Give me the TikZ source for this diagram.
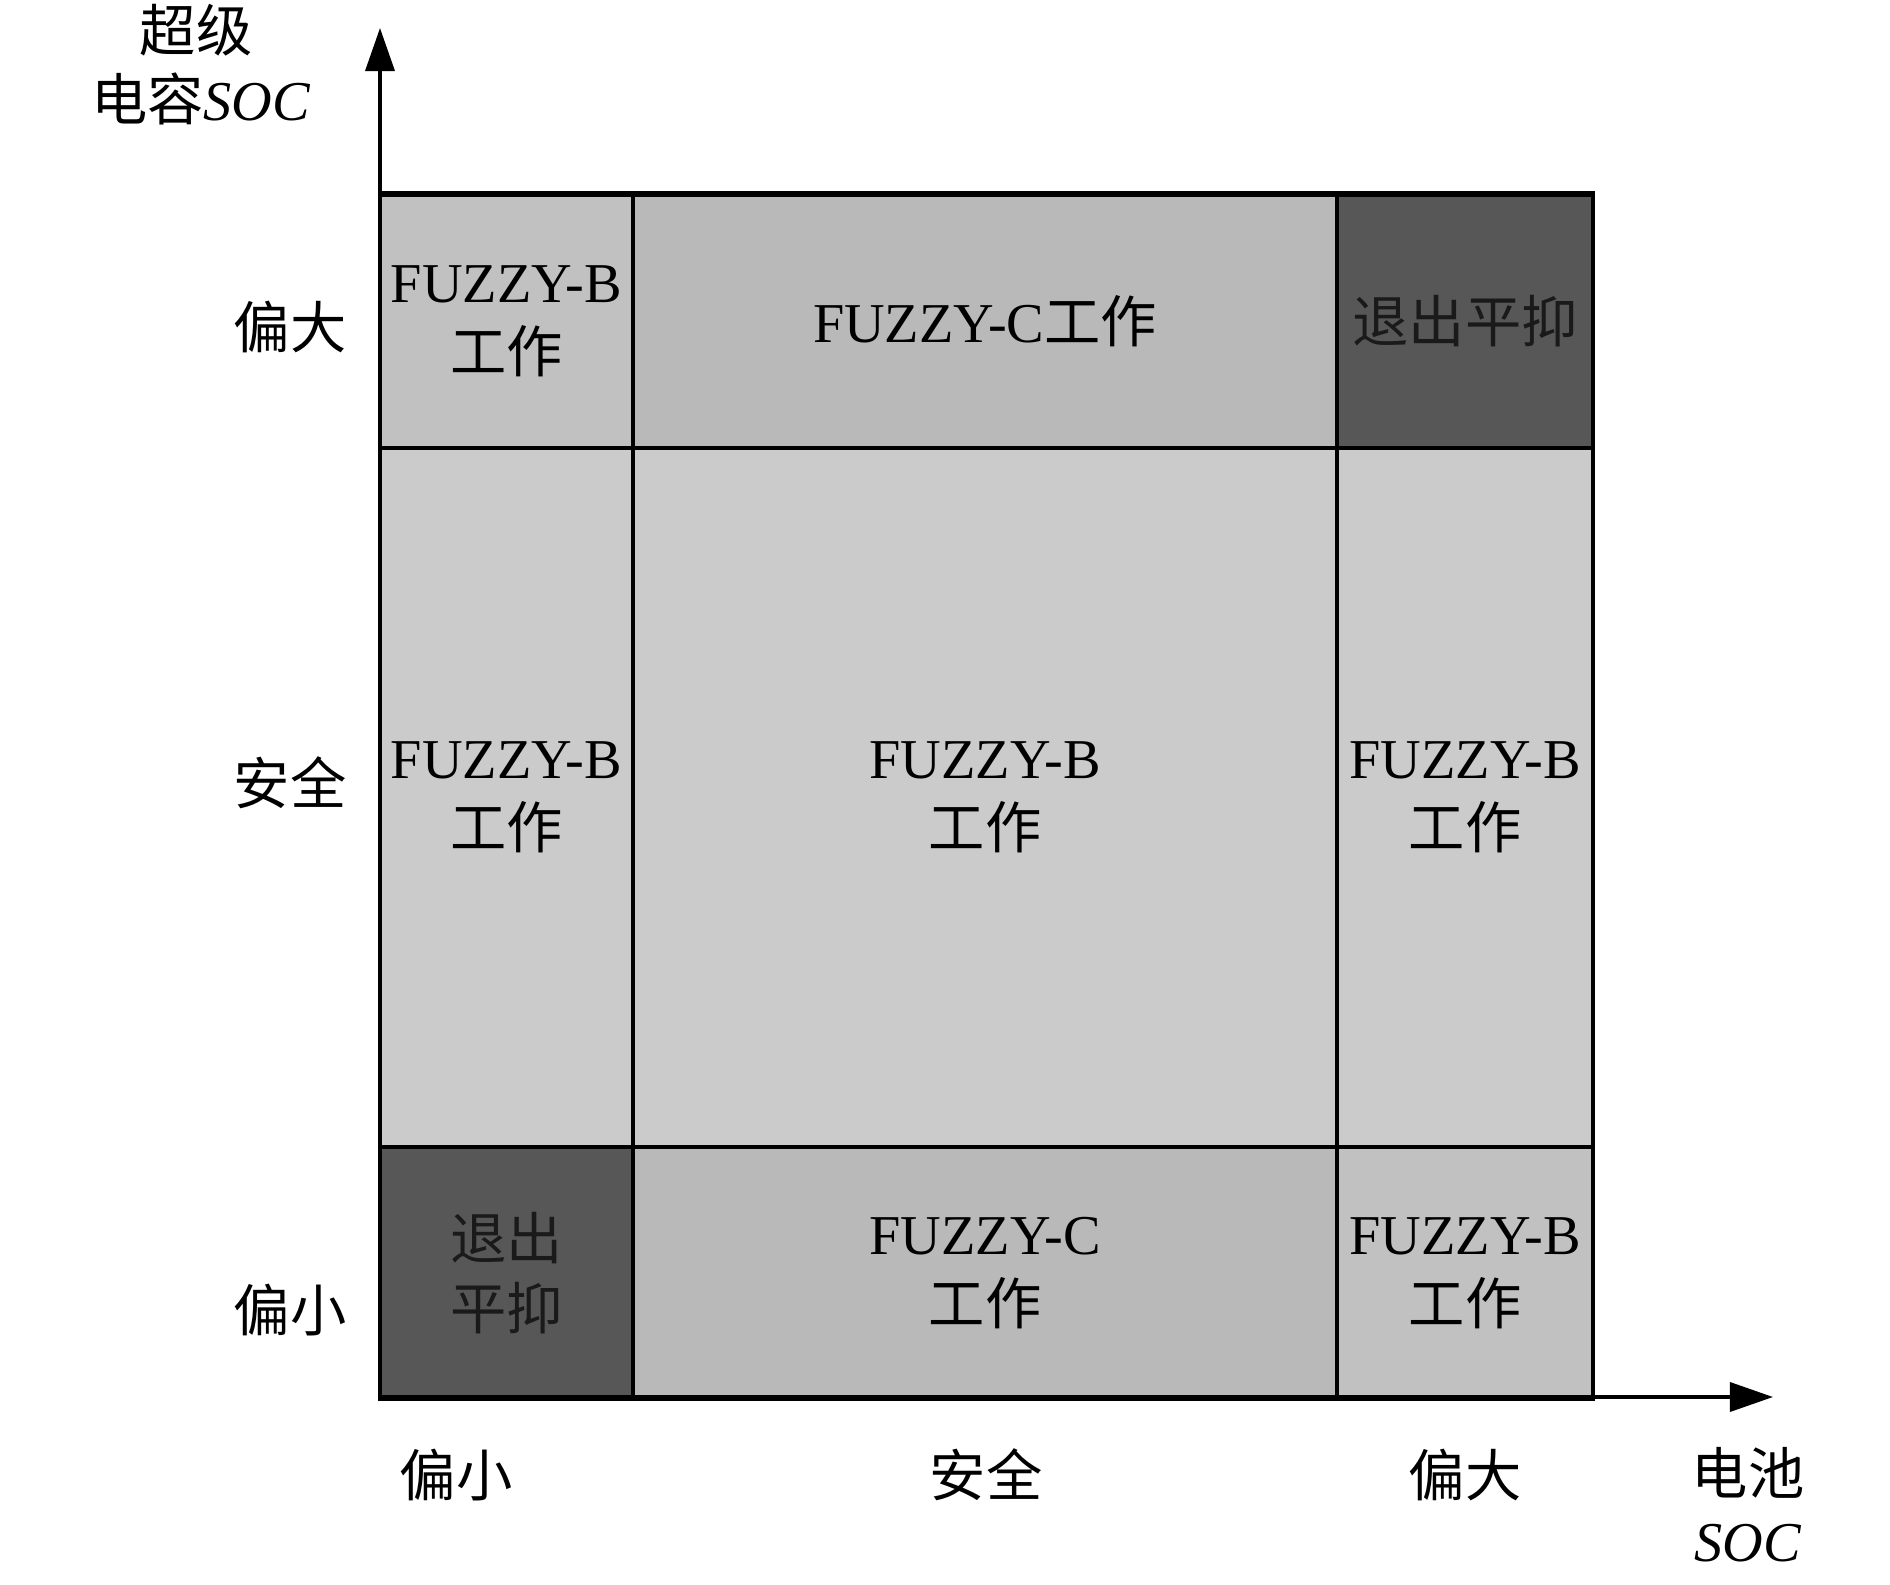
\documentclass[tikz,border=0pt]{standalone}
\usepackage{fontspec}
\setmainfont{Liberation Serif}
\newfontfamily\cjk{Noto Sans CJK SC}
\usetikzlibrary{arrows.meta}
\definecolor{cB}{HTML}{C1C1C1}
\definecolor{cM}{HTML}{CBCBCB}
\definecolor{cC}{HTML}{B9B9B9}
\definecolor{cD}{HTML}{575757}
\definecolor{tD}{HTML}{1A1A1A}
\begin{document}
\begin{tikzpicture}[x=0.01cm,y=-0.01cm,
  every node/.style={font=\fontsize{16pt}{19.8pt}\selectfont},
  cell/.style={draw=black, line width=1.2pt, inner sep=0pt, outer sep=0pt, align=center, text=black},
  axis/.style={line width=1pt, -{Triangle[length=0.43cm,width=0.29cm]}},
  lbl/.style={inner sep=0pt, align=center}]
\useasboundingbox (0,0) rectangle (1890,1585);
% cells
\node[cell, fill=cB, minimum width=2.53cm, minimum height=2.53cm] (c11) at (506.5,321.5) {FUZZY-B\\{\cjk 工作}};
\node[cell, fill=cC, minimum width=7.04cm, minimum height=2.53cm] (c12) at (985,321.5) {FUZZY-C{\cjk 工作}};
\node[cell, fill=cD, text=tD, minimum width=2.56cm, minimum height=2.53cm] (c13) at (1465,321.5) {\cjk 退出平抑};
\node[cell, fill=cM, minimum width=2.53cm, minimum height=6.99cm] (c21) at (506.5,797.5) {FUZZY-B\\{\cjk 工作}};
\node[cell, fill=cM, minimum width=7.04cm, minimum height=6.99cm] (c22) at (985,797.5) {FUZZY-B\\{\cjk 工作}};
\node[cell, fill=cM, minimum width=2.56cm, minimum height=6.99cm] (c23) at (1465,797.5) {FUZZY-B\\{\cjk 工作}};
\node[cell, fill=cD, text=tD, minimum width=2.53cm, minimum height=2.52cm] (c31) at (506.5,1273) {\cjk 退出\\\cjk 平抑};
\node[cell, fill=cC, minimum width=7.04cm, minimum height=2.52cm] (c32) at (985,1273) {FUZZY-C\\{\cjk 工作}};
\node[cell, fill=cB, minimum width=2.56cm, minimum height=2.52cm] (c33) at (1465,1273) {FUZZY-B\\{\cjk 工作}};
% redraw borders at exact grid positions
\draw[line width=1.2pt] (380,193) rectangle (1593,1397);
% axes
\coordinate (O) at (380,1397);
\coordinate (ytip) at (380,28);
\coordinate (xtip) at (1773,1397);
\draw[axis] (O) -- (ytip);
\draw[axis] (O) -- (xtip);
% axis titles
\node[lbl] (yt1) at (196,30) {\cjk 超级};
\node[lbl] (yt2) at (201,99) {{\cjk 电容}\textit{SOC}};
\node[lbl] (xt1) at (1748,1473) {\cjk 电池};
\node[lbl] (xt2) at (1748,1543) {\textit{SOC}};
% row labels
\node[lbl] (r1) at (290,327) {\cjk 偏大};
\node[lbl] (r2) at (290,783) {\cjk 安全};
\node[lbl] (r3) at (290,1310) {\cjk 偏小};
% column labels
\node[lbl] (k1) at (456,1475) {\cjk 偏小};
\node[lbl] (k2) at (986,1475) {\cjk 安全};
\node[lbl] (k3) at (1465,1475) {\cjk 偏大};
\end{tikzpicture}
\end{document}
